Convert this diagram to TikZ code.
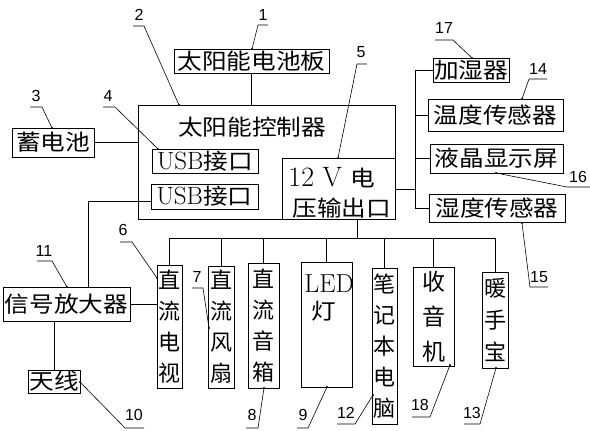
\documentclass[tikz,border=0pt]{standalone}
\usepackage{fontspec}
\newfontfamily\cjk{Noto Sans CJK SC}[FakeStretch=1.12]
\newfontfamily\cjkv{Noto Sans CJK SC}
\newfontfamily\lab{Liberation Sans}
\begin{document}
\begin{tikzpicture}[x=1pt,y=-1pt,line width=0.8pt,
  box/.style={draw,inner sep=0pt,font=\cjk\fontsize{22}{24}\selectfont},
  vbox/.style={draw,inner sep=0pt,align=center,font=\cjkv\fontsize{22}{31}\selectfont},
  txt/.style={inner sep=0pt,font=\cjk\fontsize{22}{24}\selectfont},
  num/.style={inner sep=0pt,font=\lab\fontsize{16}{16}\selectfont},
  lead/.style={line width=0.6pt},
  dotc/.style={fill=black}]
\useasboundingbox (0,0) rectangle (590,431);
% top part
\node[box,minimum width=155pt,minimum height=24pt] (panel) at (251.5,61) {太阳能电池板};
\node[draw,inner sep=0pt,minimum width=257pt,minimum height=114pt] (ctrl) at (266.5,162) {};
\node[txt] (ctrlt) at (252,127) {太阳能控制器};
\node[box,minimum width=106pt,minimum height=24pt] (usb1) at (205,161) {{\rmfamily\fontsize{25}{25}\selectfont USB}接口};
\node[box,minimum width=107pt,minimum height=25pt] (usb2) at (204.5,196.5) {{\rmfamily\fontsize{25}{25}\selectfont USB}接口};
\node[draw,inner sep=0pt,minimum width=113pt,minimum height=61pt] (v12) at (338.5,188.5) {};
\node[txt,anchor=west] (v12a) at (288,178) {{\rmfamily\fontsize{28}{28}\selectfont 12 V }电};
\node[txt,anchor=west] (v12b) at (292,208) {压输出口};
\node[box,minimum width=82pt,minimum height=29pt] (batt) at (53,142.5) {蓄电池};
\node[box,minimum width=127pt,minimum height=34pt] (amp) at (66.5,304) {信号放大器};
\node[box,minimum width=52pt,minimum height=23pt] (ant) at (54,381.5) {天线};
% right column
\node[box,minimum width=76pt,minimum height=24pt] (hum) at (471,70) {加湿器};
\node[box,minimum width=135pt,minimum height=32pt] (temp) at (495.5,115) {温度传感器};
\node[box,minimum width=133pt,minimum height=29pt] (lcd) at (496.5,158.5) {液晶显示屏};
\node[box,minimum width=136pt,minimum height=28pt] (humid) at (497,208) {湿度传感器};
% bottom loads
\node[vbox,minimum width=25pt,minimum height=123pt] (tv) at (169.5,326.5) {直\\流\\电\\视};
\node[vbox,minimum width=26pt,minimum height=122pt] (fan) at (221,327) {直\\流\\风\\扇};
\node[vbox,minimum width=31pt,minimum height=125pt] (spk) at (263.5,325.5) {直\\流\\音\\箱};
\node[draw,inner sep=0pt,minimum width=51pt,minimum height=125pt] (led) at (326.5,324.5) {};
\node[inner sep=0pt,anchor=west,font=\rmfamily\fontsize{26}{26}\selectfont] (ledt) at (304,284) {LED};
\node[txt,anchor=west] (ledd) at (311,311) {灯};
\node[vbox,minimum width=25pt,minimum height=156pt] (pc) at (384.5,346) {笔\\记\\本\\电\\脑};
\node[vbox,minimum width=41pt,minimum height=99pt,font=\cjkv\fontsize{23}{35}\selectfont] (radio) at (433.5,316.5) {收\\音\\机};
\node[vbox,minimum width=26pt,minimum height=96pt,font=\cjkv\fontsize{22}{32}\selectfont] (hw) at (495,320) {暖\\手\\宝};
% connectors
\draw (panel.south) -- (panel.south |- ctrl.north);
\draw (batt.east) -- (batt.east -| ctrl.west);
\coordinate (ua) at (88,201);
\draw (ua -| usb2.west) -- (ua) -- (ua |- amp.north);
\draw (ant.north |- amp.south) -- (ant.north);
\draw (amp.east) -- (amp.east -| tv.west);
\coordinate (bus) at (357,238);
\draw (bus |- v12.south) -- (bus);
\draw (tv.north) -- (tv.north |- bus) -- (hw.north |- bus) -- (hw.north);
\foreach \n in {fan,spk,led,pc,radio}{\draw (\n.north) -- (\n.north |- bus);}
\coordinate (rbus) at (415,189);
\draw (rbus -| ctrl.east) -- (rbus);
\draw (rbus |- hum.west) -- (rbus |- humid.west);
\foreach \n in {hum,temp,lcd,humid}{\draw (rbus |- \n.west) -- (\n.west);}
% callouts
\node[num] (n1) at (263,15) {1};
\coordinate (t1) at (252,49);
\draw[lead] (268,25) -- (258,25) -- (t1); \fill[dotc] (t1) circle (1.2pt);
\node[num] (n2) at (139,15) {2};
\coordinate (t2) at (179,105);
\draw[lead] (133,26) -- (144,26) -- (t2); \fill[dotc] (t2) circle (1.2pt);
\node[num] (n3) at (36,96) {3};
\coordinate (t3) at (52,128);
\draw[lead] (30,107) -- (42,107) -- (t3); \fill[dotc] (t3) circle (1.2pt);
\node[num] (n4) at (108,96) {4};
\coordinate (t4) at (158,149);
\draw[lead] (103,107) -- (115,107) -- (t4); \fill[dotc] (t4) circle (1.2pt);
\node[num] (n5) at (361,52) {5};
\coordinate (t5) at (338,158);
\draw[lead] (367,64) -- (357,64) -- (t5); \fill[dotc] (t5) circle (1.2pt);
\node[num] (n6) at (123,230) {6};
\coordinate (t6) at (157,278);
\draw[lead] (120,242) -- (132,242) -- (t6); \fill[dotc] (t6) circle (1.2pt);
\node[num] (n7) at (197,277) {7};
\coordinate (t7) at (209,328);
\draw[lead] (192,288) -- (203,288) -- (t7); \fill[dotc] (t7) circle (1.2pt);
\node[num] (n8) at (252,415) {8};
\coordinate (t8) at (264,388);
\draw[lead] (246,428) -- (258,428) -- (t8); \fill[dotc] (t8) circle (1.2pt);
\node[num] (n9) at (303,415) {9};
\coordinate (t9) at (327,387);
\draw[lead] (297,428) -- (308,428) -- (t9); \fill[dotc] (t9) circle (1.2pt);
\node[num] (n10) at (134,415) {10};
\coordinate (t10) at (80,382);
\draw[lead] (144,428) -- (125,428) -- (t10); \fill[dotc] (t10) circle (1.2pt);
\node[num] (n11) at (44,251) {11};
\coordinate (t11) at (67,287);
\draw[lead] (37,261) -- (52,261) -- (t11); \fill[dotc] (t11) circle (1.2pt);
\node[num] (n12) at (346,413) {12};
\coordinate (t12) at (373,395);
\draw[lead] (337,424) -- (355,424) -- (t12); \fill[dotc] (t12) circle (1.2pt);
\node[num] (n13) at (472,413) {13};
\coordinate (t13) at (496,368);
\draw[lead] (464,424) -- (480,424) -- (t13); \fill[dotc] (t13) circle (1.2pt);
\node[num] (n14) at (538,69) {14};
\coordinate (t14) at (522,99);
\draw[lead] (547,79) -- (529,79) -- (t14); \fill[dotc] (t14) circle (1.2pt);
\node[num] (n15) at (539,277) {15};
\coordinate (t15) at (522,223);
\draw[lead] (548,287) -- (530,287) -- (t15); \fill[dotc] (t15) circle (1.2pt);
\node[num] (n16) at (578,177) {16};
\coordinate (t16) at (496,173);
\draw[lead] (590,187) -- (567,187) -- (t16); \fill[dotc] (t16) circle (1.2pt);
\node[num] (n17) at (444,28) {17};
\coordinate (t17) at (472,58);
\draw[lead] (435,40) -- (453,40) -- (t17); \fill[dotc] (t17) circle (1.2pt);
\node[num] (n18) at (420,405) {18};
\coordinate (t18) at (450,365);
\draw[lead] (412,417) -- (430,417) -- (t18); \fill[dotc] (t18) circle (1.2pt);
\end{tikzpicture}
\end{document}
